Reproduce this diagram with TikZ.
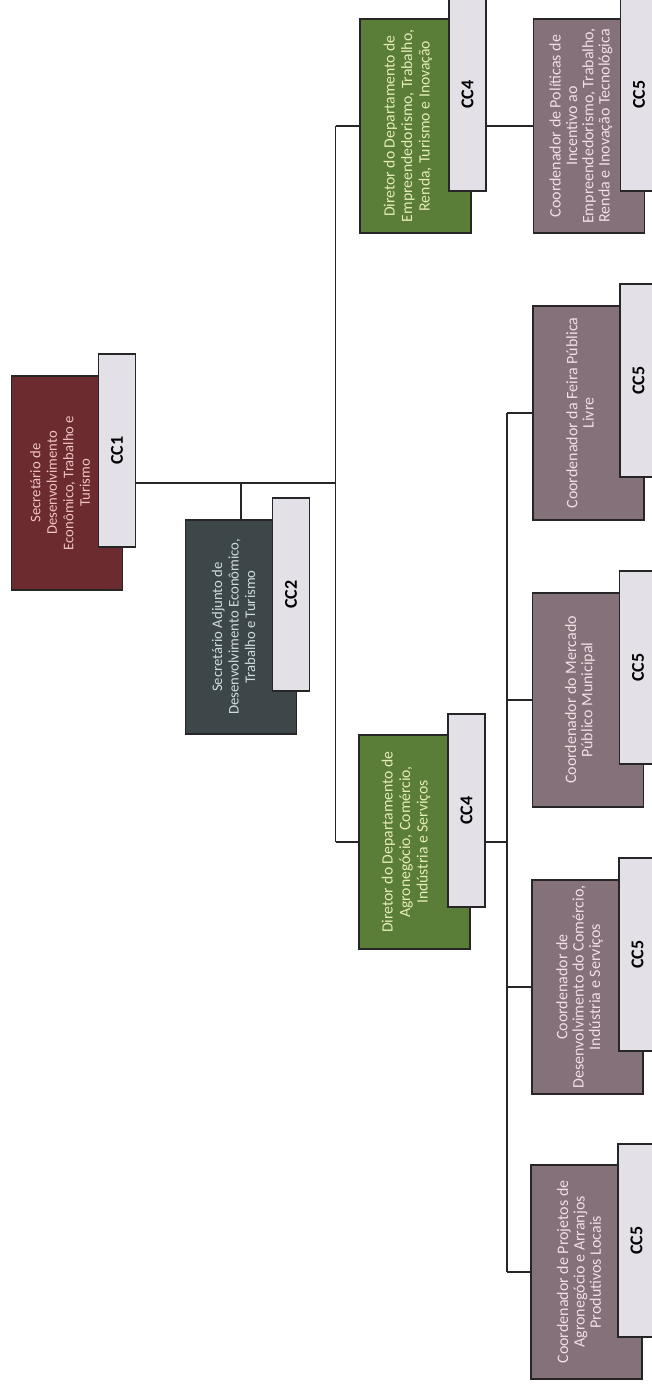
\documentclass[tikz,border=0pt]{standalone}
\usepackage{fontspec}
\usepackage{graphicx}
\setmainfont{Carlito}
\usetikzlibrary{calc}
\definecolor{redbox}{HTML}{6B2B2F}
\definecolor{slatebox}{HTML}{3D4749}
\definecolor{greenbox}{HTML}{5A7D38}
\definecolor{mauvebox}{HTML}{85717A}
\definecolor{tagfill}{HTML}{E4E0E8}
\definecolor{redtext}{HTML}{F0C4C6}
\definecolor{slatetext}{HTML}{D0DAE2}
\definecolor{greentext}{HTML}{E4ECB8}
\definecolor{mauvetext}{HTML}{F2DFE4}
\begin{document}
\begin{tikzpicture}[x=1pt,y=-1pt,
  box/.style={draw=black!85, line width=1.4pt, minimum width=111pt, minimum height=214pt, inner sep=0pt, outer sep=0pt, anchor=north west},
  tagbox/.style={draw=black!85, line width=1.4pt, fill=tagfill, minimum width=37pt, minimum height=193pt, inner sep=0pt, outer sep=0pt, anchor=north west, font=\fontsize{18}{18}\selectfont\bfseries},
  txt/.style={rotate=90, align=center, inner sep=0pt},
  smalltxt/.style={txt, font=\fontsize{14.7}{16.5}\selectfont},
  midtxt/.style={txt, font=\fontsize{15.7}{17.5}\selectfont},
  bigtxt/.style={txt, font=\fontsize{16}{16.3}\selectfont},
  link/.style={draw=black!85, line width=1.2pt}
]
\useasboundingbox (0,0) rectangle (652,1386);
\fill[white] (0,0) rectangle (652,1386);

% level 1
\node[box, fill=redbox] (b1) at (11.6,376) {};
\node[tagbox] (g1) at (98.6,354) {\rotatebox{90}{CC1}};
\node[smalltxt, text=redtext] (t1) at (60,483) {Secretário de\\Desenvolvimento\\Econômico, Trabalho e\\Turismo};

% assistant
\node[box, fill=slatebox] (b2) at (185.5,520) {};
\node[tagbox] (g2) at (272.5,498) {\rotatebox{90}{CC2}};
\node[smalltxt, text=slatetext] (t2) at (233.5,627) {Secretário Adjunto de\\Desenvolvimento Econômico,\\Trabalho e Turismo};

% directors
\node[box, fill=greenbox] (b4) at (360,19) {};
\node[tagbox] (g4) at (449,-2) {\rotatebox{90}{CC4}};
\node[midtxt, text=greentext] (t4) at (408,126) {Diretor do Departamento de\\Empreendedorismo, Trabalho,\\Renda, Turismo e Inovação};

\node[box, fill=greenbox] (b5) at (359,735) {};
\node[tagbox] (g5) at (448,714) {\rotatebox{90}{CC4}};
\node[midtxt, text=greentext] (t5) at (406,842) {Diretor do Departamento de\\Agronegócio, Comércio,\\Indústria e Serviços};

% coordinators
\node[box, fill=mauvebox] (b6) at (533.5,19) {};
\node[tagbox] (g6) at (620.5,-2) {\rotatebox{90}{CC5}};
\node[bigtxt, text=mauvetext] (t6) at (581,126) {Coordenador de Políticas de\\Incentivo ao\\Empreendedorismo, Trabalho,\\Renda e Inovação Tecnológica};

\node[box, fill=mauvebox] (c1) at (533,306) {};
\node[tagbox] (h1) at (620,284) {\rotatebox{90}{CC5}};
\node[bigtxt, text=mauvetext] (u1) at (580,413) {Coordenador da Feira Pública\\Livre};

\node[box, fill=mauvebox] (c2) at (532.5,593) {};
\node[tagbox] (h2) at (619.5,571) {\rotatebox{90}{CC5}};
\node[bigtxt, text=mauvetext] (u2) at (580,700) {Coordenador do Mercado\\Público Municipal};

\node[box, fill=mauvebox] (c3) at (532,880) {};
\node[tagbox] (h3) at (619,858) {\rotatebox{90}{CC5}};
\node[bigtxt, text=mauvetext] (u3) at (579.5,987) {Coordenador de\\Desenvolvimento do Comércio,\\Indústria e Serviços};

\node[box, fill=mauvebox] (c4) at (531,1165) {};
\node[tagbox] (h4) at (618,1144) {\rotatebox{90}{CC5}};
\node[bigtxt, text=mauvetext] (u4) at (579,1272) {Coordenador de Projetos de\\Agronegócio e Arranjos\\Produtivos Locais};

% connectors
\coordinate (j1) at (335.6,483);
\coordinate (j2) at (507,843);
\draw[link] (g1.east |- b1.center) -- (j1);
\draw[link] (b2.north |- b1.center) -- (b2.north);
\draw[link] (j1 |- b4.center) -- (j1 |- b5.center);
\draw[link] (j1 |- b4.center) -- (b4.west);
\draw[link] (j1 |- b5.center) -- (b5.west);
\draw[link] (g4.east |- b4.center) -- (b6.west);
\draw[link] (g5.east |- b5.center) -- (j2 |- b5.center);
\draw[link] (j2 |- c1.center) -- (j2 |- c4.center);
\draw[link] (j2 |- c1.center) -- (c1.west);
\draw[link] (j2 |- c2.center) -- (c2.west);
\draw[link] (j2 |- c3.center) -- (c3.west);
\draw[link] (j2 |- c4.center) -- (c4.west);
\end{tikzpicture}
\end{document}
